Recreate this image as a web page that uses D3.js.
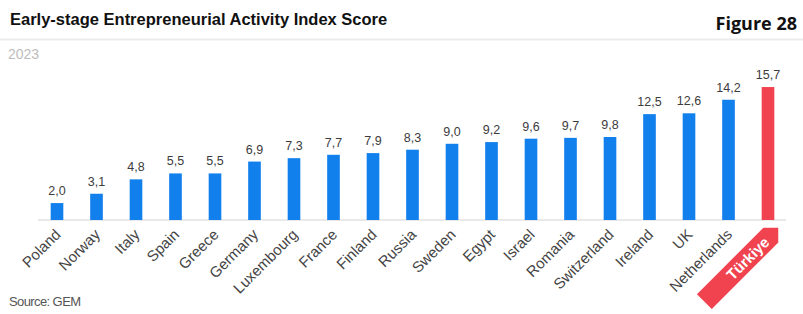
<!DOCTYPE html>
<html>
<head>
<meta charset="utf-8">
<script src="https://cdn.jsdelivr.net/npm/d3@7"></script>
<style>
    html, body { margin: 0; padding: 0; background: #fff; }
    svg { display: block; font-family: "Liberation Sans", Arial, sans-serif; }
</style>
</head>
<body>
<svg id="chart" width="803" height="314"></svg>
<script>
// ─── DONNÉES ──────────────────────────────────────────────────────────────
const countries = ["Poland", "Norway", "Italy", "Spain", "Greece", "Germany", "Luxembourg",
    "France", "Finland", "Russia", "Sweden", "Egypt", "Israel", "Romania", "Switzerland",
    "Ireland", "UK", "Netherlands", "Türkiye"];
const scores = [2.0, 3.1, 4.8, 5.5, 5.5, 6.9, 7.3, 7.7, 7.9, 8.3, 9.0, 9.2, 9.6, 9.7, 9.8,
    12.5, 12.6, 14.2, 15.7];
const highlight = "Türkiye";

const blue = "#1180ec";
const red  = "#f0434f";

const svg = d3.select("#chart");
const baseY = 220;

const x = d3.scaleBand()
    .domain(countries)
    .range([37.25, 787.75])
    .paddingInner(0.68)
    .paddingOuter(0.34);

const y = d3.scaleLinear()
    .domain([0, 16])
    .range([baseY, 84.5]);

const rows = countries.map((c, i) => ({ label: c, value: scores[i] }));
const fmt = v => v.toFixed(1).replace(".", ",");

// ─── EN-TÊTE ──────────────────────────────────────────────────────────────
svg.append("text")
    .attr("x", 10).attr("y", 25)
    .text("Early-stage Entrepreneurial Activity Index Score")
    .style("font-size", "16.5px").style("font-weight", "bold").style("fill", "#111");

svg.append("text")
    .attr("x", 797).attr("y", 30)
    .attr("text-anchor", "end")
    .text("Figure 28")
    .style("font-family", "'Open Sans', sans-serif")
    .style("font-size", "18px").style("font-weight", "bold").style("fill", "#111");

svg.append("line")
    .attr("x1", 0).attr("x2", 803).attr("y1", 39.5).attr("y2", 39.5)
    .attr("stroke", "#ececec").attr("stroke-width", 2);

svg.append("text")
    .attr("x", 8).attr("y", 59)
    .text("2023")
    .style("font-size", "14px").style("fill", "#bdbdbd");

// ─── AXE X ────────────────────────────────────────────────────────────────
svg.append("g")
    .attr("transform", `translate(0,${baseY})`)
    .call(d3.axisBottom(x).tickSize(0).tickFormat(""))
    .call(g => g.select(".domain").attr("stroke", "#e2e2e2").attr("stroke-width", 1.5)
        .attr("d", "M38,0H786"));

// ─── BARRES ───────────────────────────────────────────────────────────────
svg.selectAll(".bar")
    .data(rows)
    .enter()
    .append("rect")
    .attr("class", "bar")
    .attr("x", d => x(d.label))
    .attr("y", d => y(d.value))
    .attr("width", x.bandwidth())
    .attr("height", d => baseY - y(d.value))
    .attr("fill", d => d.label === highlight ? red : blue);

// Valeurs au-dessus des barres
svg.selectAll(".val")
    .data(rows)
    .enter()
    .append("text")
    .attr("class", "val")
    .attr("x", d => x(d.label) + x.bandwidth() / 2)
    .attr("y", d => y(d.value) - 8)
    .attr("text-anchor", "middle")
    .text(d => fmt(d.value))
    .style("font-size", "12.5px").style("fill", "#3c3c3c");

// Libellés pivotés
const labels = svg.selectAll(".lab")
    .data(rows)
    .enter()
    .append("g")
    .attr("class", "lab")
    .attr("transform", d => d.label === highlight
        ? `translate(${x(d.label) + x.bandwidth() / 2},238) rotate(-45)`
        : `translate(${x(d.label) + x.bandwidth() / 2 - 3},228) rotate(-45)`);

labels.filter(d => d.label === highlight)
    .append("path")
    .attr("d", "M-90,-10.5H4L14.5,0L4,10.5H-90Z")
    .attr("fill", red);

labels.append("text")
    .attr("text-anchor", "end")
    .attr("x", d => d.label === highlight ? -2 : 0)
    .attr("dy", d => d.label === highlight ? "0.36em" : "0.71em")
    .text(d => d.label)
    .style("font-size", d => d.label === highlight ? "15px" : "15px")
    .style("font-weight", d => d.label === highlight ? "bold" : "normal")
    .style("fill", d => d.label === highlight ? "#fff" : "#444");

// ─── SOURCE ───────────────────────────────────────────────────────────────
svg.append("text")
    .attr("x", 9).attr("y", 306)
    .text("Source: GEM")
    .style("font-size", "13px").style("fill", "#555").style("letter-spacing", "-0.6px");
</script>
</body>
</html>
